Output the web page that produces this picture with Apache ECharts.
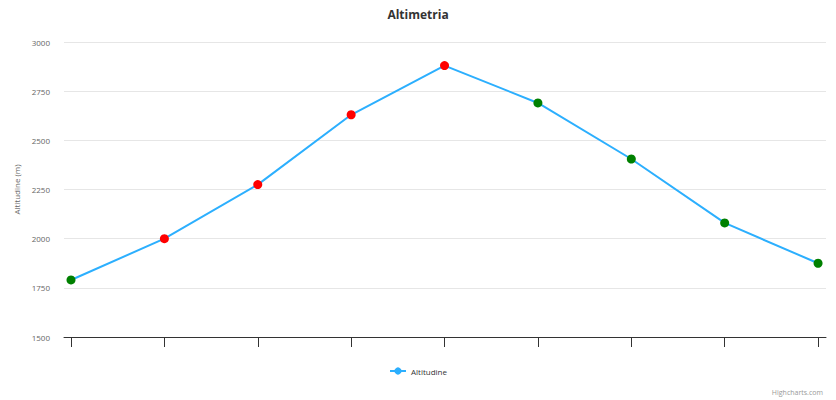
<!DOCTYPE html>
<html><head><meta charset="utf-8">
<script src="https://cdn.jsdelivr.net/npm/echarts@6/dist/echarts.min.js"></script>
<style>html,body{margin:0;padding:0;background:#fff}#c{width:836px;height:400px}</style>
</head><body><div id="c"></div>
<script>
const categories = [0,1,2,3,4,5,6,7,8];
const altitudes = [1790, 2000, 2275, 2630, 2880, 2690, 2405, 2080, 1875];
const pointColors = ['#008000','#ff0000','#ff0000','#ff0000','#ff0000','#008000','#008000','#008000','#008000'];
const yTicks = [1500, 1750, 2000, 2250, 2500, 2750, 3000];
const seriesName = 'Altitudine';
const FONT = '"Open Sans", "Noto Sans", sans-serif';

const chart = echarts.init(document.getElementById('c'), null, {renderer:'svg'});
chart.setOption({
  animation:false,
  textStyle:{fontFamily:FONT},
  title:[{text:'Altimetria', left:'center', top:3, textStyle:{fontSize:12, fontWeight:'bold', color:'#333', fontFamily:FONT}},
         {text:'Highcharts.com', right:8, bottom:-1, textStyle:{fontSize:7, fontWeight:'normal', color:'#999', fontFamily:FONT}}],
  legend:{bottom:20, left:'center', itemWidth:16, itemHeight:9, itemGap:10,
    data:[{name:seriesName}],
    textStyle:{fontSize:8, color:'#333', fontFamily:FONT}},
  grid:{left:64, right:10, top:42, bottom:63},
  xAxis:{type:'value', min:-0.075, max:8.085,
    splitLine:{show:false},
    axisLine:{show:true, lineStyle:{color:'#333', width:1}},
    axisTick:{show:true, inside:false, length:10, lineStyle:{color:'#333'}, customValues:categories},
    axisLabel:{show:false, customValues:categories}},
  yAxis:{type:'value', min:1500, max:3000, interval:250,
    name:'Altitudine (m)', nameLocation:'middle', nameGap:44, nameRotate:90,
    nameTextStyle:{fontSize:8, color:'#666', fontFamily:FONT},
    axisLine:{show:false}, axisTick:{show:false},
    axisLabel:{fontSize:8, color:'#666', margin:14, fontFamily:FONT, customValues:yTicks, formatter:v=>String(v)},
    splitLine:{lineStyle:{color:'#e6e6e6'}}},
  series:[{name:seriesName, type:'line', symbol:'circle', symbolSize:9,
    lineStyle:{color:'#2caffe', width:2}, itemStyle:{color:'#2caffe'},
    data:categories.map((c,i)=>({value:[c, altitudes[i]], itemStyle:{color:pointColors[i]}}))}]
});
</script></body></html>
